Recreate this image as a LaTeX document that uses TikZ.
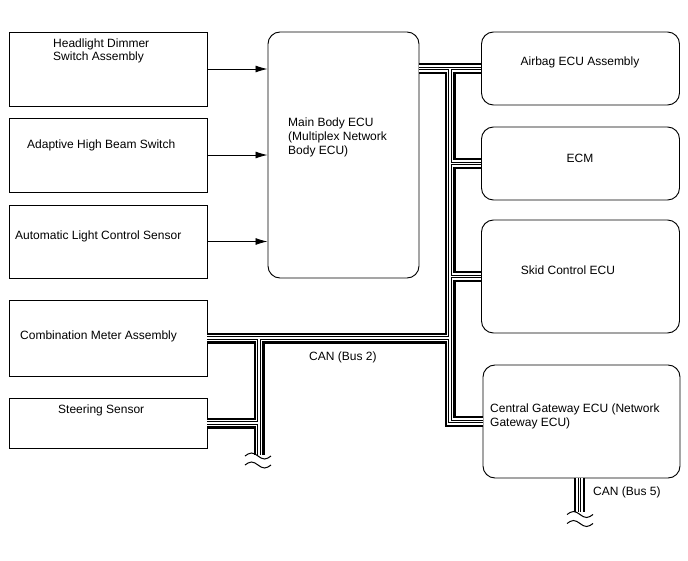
\documentclass[tikz,border=0pt]{standalone}
\usepackage{fontspec}
\setmainfont{Liberation Sans}
\usetikzlibrary{arrows.meta}
\newcommand\buspaths[1]{%
  \draw[#1] (ab.west -| mb.east) -- (ab.west);
  \draw[#1] (trk |- ab.west) -- (trk |- gw.west) -- (gw.west);
  \draw[#1] (trk |- ecm.west) -- (ecm.west);
  \draw[#1] (trk |- sk.west) -- (sk.west);
  \draw[#1] (cm.east) -- (trk |- cm.east);
  \draw[#1] (br |- cm.east) -- (e2);
  \draw[#1] (ss.east) -- (br |- ss.east);
  \draw[#1] (e5 |- gw.south) -- (e5);
}
\begin{document}
\begin{tikzpicture}[x=1pt,y=-1pt,
  box/.style={draw, line width=0.95pt, minimum width=198pt, inner sep=0pt},
  rbox/.style={box, rounded corners=12pt},
  txt/.style={font=\fontsize{12}{14}\selectfont, inner sep=0pt, align=left},
  arr/.style={-{Latex[length=12pt,width=7pt]}, line width=0.9pt},
  busA/.style={line width=11pt, black, line join=miter},
  busB/.style={line width=6.5pt, white, line join=miter},
  busC/.style={line width=3.2pt, black, line join=miter},
  busD/.style={line width=1.1pt, white, line join=miter},
  wave/.style={line width=1pt}
]
\useasboundingbox[fill=white] (0,0) rectangle (688,560);

% left boxes
\node[box, minimum height=74pt] (hd) at (108,69) {};
\node[box, minimum height=74pt] (ahb) at (108,155) {};
\node[box, minimum height=73pt] (alc) at (108,241.5) {};
\node[box, minimum height=76pt] (cm) at (108,338) {};
\node[box, minimum height=50pt] (ss) at (108,423) {};

% main ECU
\node[rbox, minimum width=151pt, minimum height=246pt] (mb) at (343.5,155) {};

% right boxes
\node[rbox, minimum height=73pt] (ab) at (580.5,68.5) {};
\node[rbox, minimum height=73pt] (ecm) at (580.5,163.5) {};
\node[rbox, minimum height=113pt] (sk) at (580.5,276.5) {};
\node[rbox, minimum width=197pt, minimum height=113pt] (gw) at (581.5,421.5) {};

% texts
\node[txt, anchor=west, font=\fontsize{12}{12.5}\selectfont] (hdt) at (53,51) {Headlight Dimmer\\Switch Assembly};
\node[txt, anchor=west] (ahbt) at (27,145) {Adaptive High Beam Switch};
\node[txt, anchor=west] (alct) at (15,236) {Automatic Light Control Sensor};
\node[txt, anchor=west] (cmt) at (20,336) {Combination Meter Assembly};
\node[txt, anchor=west] (sst) at (58,410) {Steering Sensor};
\node[txt, anchor=west] (mbt) at (288,137) {Main Body ECU\\(Multiplex Network\\Body ECU)};
\node[txt] (abt) at (580,62) {Airbag ECU Assembly};
\node[txt] (ecmt) at (580,158) {ECM};
\node[txt] (skt) at (568,270) {Skid Control ECU};
\node[txt, anchor=west] (gwt) at (490,416) {Central Gateway ECU (Network\\Gateway ECU)};
\node[txt, anchor=west] (can2) at (309,357) {CAN (Bus 2)};
\node[txt, anchor=west] (can5) at (593,492) {CAN (Bus 5)};

% arrows
\draw[arr] (hd.east) -- (hd.east -| mb.west);
\draw[arr] (ahb.east) -- (ahb.east -| mb.west);
\draw[arr] (alc.east) -- (alc.east -| mb.west);

% buses
\coordinate (trk) at (450,0);
\coordinate (br) at (259,0);
\coordinate (e2) at (259,455);
\coordinate (e5) at (579.5,512);
\buspaths{busA}
\buspaths{busB}
\buspaths{busC}
\buspaths{busD}

% broken ends
\draw[wave] (245,456) sin (251.5,453) cos (258,456) sin (264.5,459) cos (271,456);
\draw[wave] (245,465) sin (251.5,462) cos (258,465) sin (264.5,468) cos (271,465);
\draw[wave] (567,514.5) sin (573.5,511.5) cos (580,514.5) sin (586.5,517.5) cos (593,514.5);
\draw[wave] (567,523.5) sin (573.5,520.5) cos (580,523.5) sin (586.5,526.5) cos (593,523.5);
\end{tikzpicture}
\end{document}
